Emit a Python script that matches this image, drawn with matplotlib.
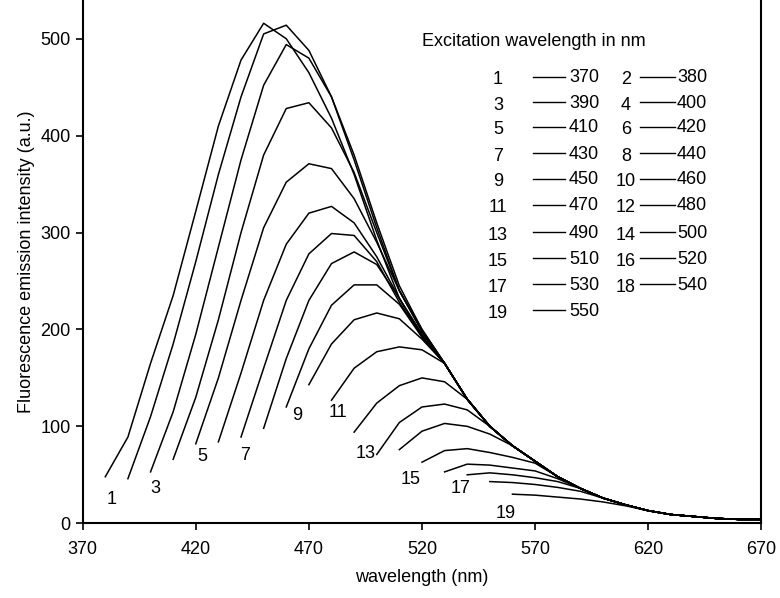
import matplotlib
matplotlib.use("Agg")
import matplotlib.pyplot as plt
from matplotlib.lines import Line2D

plt.rcParams['font.family'] = ['Liberation Sans', 'DejaVu Sans']

# curve data: start wavelength (nm, 10 nm grid) and intensities
starts = [380, 390, 400, 410, 420, 430, 440, 450, 460, 470,
          480, 490, 500, 510, 520, 530, 540, 550, 560]
c1 = [48, 89, 165, 235, 322, 410, 478, 516, 500, 465, 418, 360, 292, 232, 195]
c2 = [46, 110, 185, 270, 360, 440, 505, 514, 488, 440, 375, 305, 240, 200]
c3 = [53, 115, 195, 285, 375, 452, 494, 480, 440, 380, 310, 245, 200]
c4 = [66, 130, 210, 300, 380, 428, 434, 408, 362, 300, 240, 198]
c5 = [82, 150, 230, 305, 352, 371, 366, 335, 290, 240, 198]
c6 = [84, 155, 230, 288, 320, 327, 310, 275, 232, 195]
c7 = [89, 160, 230, 278, 299, 297, 270, 228, 193]
c8 = [98, 170, 230, 268, 280, 267, 232, 192]
c9 = [120, 180, 225, 246, 246, 226, 192]
c10 = [143, 185, 210, 217, 211, 190]
c11 = [127, 160, 177, 182, 179, 165]
c12 = [94, 124, 142, 150, 146, 128]
c13 = [71, 104, 120, 123, 117, 100]
c14 = [76, 95, 103, 100, 92, 80]
c15 = [63, 75, 77, 73, 68, 62, 48]
c16 = [53, 61, 60, 57, 54, 46, 36]
c17 = [50, 52, 50, 47, 43, 36]
c18 = [43, 42, 40, 37, 33, 26]
c19 = [30, 29, 27, 25, 22, 18, 13]
curves = [c1, c2, c3, c4, c5, c6, c7, c8, c9, c10,
          c11, c12, c13, c14, c15, c16, c17, c18, c19]
# shared tail where all curves merge
tail_wl = [530, 540, 550, 560, 570, 580, 590, 600, 610, 620, 630, 640, 650, 660, 670]
tail_val = [165, 128, 100, 80, 64, 48, 36, 26, 19, 13, 9, 7, 5, 4, 4]

label_ids = ['1', '3', '5', '7', '9', '11', '13', '15', '17', '19']
label_wl = [383, 402, 423, 442, 465, 483, 495, 515, 537, 557]
label_val = [25, 36, 69, 70, 111, 114, 72, 45, 36, 10]

exc_nums = [str(i) for i in range(1, 20)]
exc_wl = [370 + 10 * i for i in range(19)]

fig = plt.figure(figsize=(7.8, 5.98), dpi=100)
ax = fig.add_axes([0.106, 0.125, 0.870, 0.875])

for s, vals in zip(starts, curves):
    xs = [s + 10 * i for i in range(len(vals))]
    ys = list(vals)
    for w, v in zip(tail_wl, tail_val):
        if w > xs[-1]:
            xs.append(w)
            ys.append(v)
    ax.plot(xs, ys, color='black', lw=1.1)

FS = 13
for t, w, v in zip(label_ids, label_wl, label_val):
    ax.text(w, v, t, fontsize=FS, ha='center', va='center')

ax.set_xlim(370, 670)
ax.set_ylim(0, 540)
ax.set_xticks(range(370, 671, 50))
ax.set_yticks(range(0, 501, 100))
ax.tick_params(direction='out', labelsize=FS, length=5, width=1.2)
ax.tick_params(axis='x', pad=8)
ax.spines['top'].set_visible(False)
for sp in ['left', 'bottom', 'right']:
    ax.spines[sp].set_linewidth(1.5)
ax.set_xlabel('wavelength (nm)', fontsize=FS, labelpad=8)
ax.set_ylabel('Fluorescence emission intensity (a.u.)', fontsize=FS, labelpad=4)

W, H = 780, 598
def fx(px): return px / W
def fy(py): return 1 - py / H

fig.text(fx(422), fy(42), 'Excitation wavelength in nm', fontsize=FS, va='center')
row_y = [77, 102, 127, 153, 179, 205, 232, 258, 284, 310]
for i, (n, w) in enumerate(zip(exc_nums, exc_wl)):
    r, c = divmod(i, 2)
    y = row_y[r]
    nx, lx0, lx1, vx = (498, 533, 565, 569) if c == 0 else (626, 640, 675, 677)
    fig.text(fx(nx), fy(y + 3), n, fontsize=FS, ha='center', va='center')
    fig.add_artist(Line2D([fx(lx0), fx(lx1)], [fy(y), fy(y)], color='black', lw=1.0))
    fig.text(fx(vx), fy(y + 1), str(w), fontsize=FS, ha='left', va='center')

fig.savefig('out.png', dpi=100)
